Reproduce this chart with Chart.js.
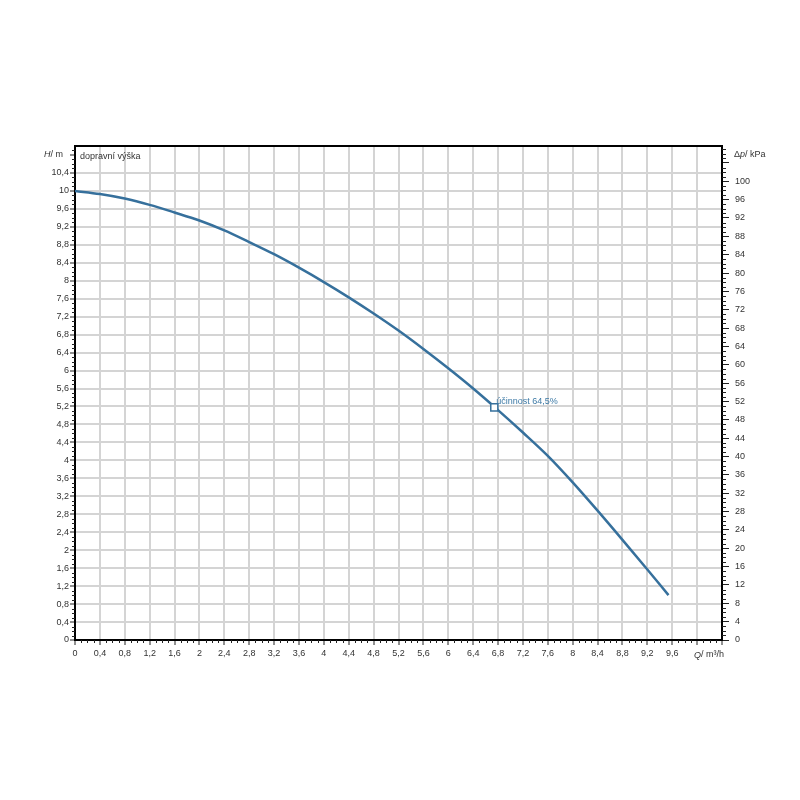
<!DOCTYPE html>
<html>
<head>
<meta charset="utf-8">
<script src="https://cdn.jsdelivr.net/npm/chart.js@4"></script>
<style>
  html, body { margin: 0; padding: 0; background: #fff; }
  canvas { display: block; }
</style>
</head>
<body>
<canvas id="chart" width="800" height="800"></canvas>
<script>
// pump curve
const flowQ = [0, 0.4, 0.8, 1.2, 1.6, 2.0, 2.4, 2.8, 3.2, 3.6, 4.0, 4.4, 4.8, 5.2, 5.6, 6.0, 6.4, 6.8, 7.2, 7.6, 8.0, 8.4, 8.8, 9.2, 9.54];
const headH = [10.0, 9.93, 9.83, 9.69, 9.52, 9.34, 9.12, 8.86, 8.59, 8.29, 7.97, 7.63, 7.27, 6.89, 6.48, 6.05, 5.60, 5.12, 4.62, 4.10, 3.51, 2.88, 2.23, 1.57, 1.0];

const effQ = [6.74];
const effH = [5.18];
const effLabel = "účinnost 64,5%";
const curveLabel = "dopravní výška";

const xTicks = [];
for (let i = 0; i <= 26; i++) xTicks.push(Math.round(i * 4) / 10);
const yTicks = [];
for (let i = 0; i <= 27; i++) yTicks.push(Math.round(i * 4) / 10);
const kpaTicks = [];
for (let i = 0; i <= 26; i++) kpaTicks.push(i * 4);

const KPA_PER_M = 9.79;
const Y_MAX = 11;
const X_MAX = 10.4;

const BLUE = "#36709c";
const GRID = "#d4d4d4";
const TEXT = "#333";
const FONT = "'Liberation Sans', Arial, sans-serif";

const fmt = (v) => String(Math.round(v * 10) / 10).replace(".", ",");

const extras = {
    id: "extras",
    afterDraw(chart) {
        const ctx = chart.ctx;
        const a = chart.chartArea;
        const sx = chart.scales.x, sy = chart.scales.y, sk = chart.scales.y2;
        ctx.save();
        // top border
        ctx.strokeStyle = "#000";
        ctx.lineWidth = 2;
        ctx.beginPath();
        ctx.moveTo(a.left - 1, a.top);
        ctx.lineTo(a.right + 1, a.top);
        ctx.stroke();

        // minor ticks
        ctx.lineWidth = 1;
        ctx.strokeStyle = "#222";
        ctx.beginPath();
        for (let i = 1; i <= 104; i++) {
            if (i % 4 === 0) continue;
            const px = Math.round(sx.getPixelForValue(i / 10)) + 0.5;
            ctx.moveTo(px, a.bottom);
            ctx.lineTo(px, a.bottom + 3);
        }
        for (let i = 1; i <= 109; i++) {
            if (i % 4 === 0) continue;
            const py = Math.round(sy.getPixelForValue(i / 10)) + 0.5;
            ctx.moveTo(a.left, py);
            ctx.lineTo(a.left - 3, py);
        }
        for (let i = 1; i <= 107; i++) {
            if (i % 4 === 0) continue;
            const py = Math.round(sk.getPixelForValue(i)) + 0.5;
            ctx.moveTo(a.right, py);
            ctx.lineTo(a.right + 4, py);
        }
        ctx.stroke();

        // axis titles
        ctx.fillStyle = TEXT;
        ctx.textBaseline = "middle";
        const yTitle = sy.getPixelForValue(10.8);

        const parts = (list, x, y) => {
            let cx = x;
            list.forEach(([t, it]) => {
                ctx.font = (it ? "italic " : "") + "9px " + FONT;
                ctx.textAlign = "left";
                ctx.fillText(t, cx, y);
                cx += ctx.measureText(t).width;
            });
            return cx - x;
        };
        const hParts = [["H", true], ["/ m", false]];
        let w = 0;
        hParts.forEach(([t, it]) => { ctx.font = (it ? "italic " : "") + "9px " + FONT; w += ctx.measureText(t).width; });
        parts(hParts, a.left - 12 - w, yTitle);
        parts([["Δ", false], ["p", true], ["/ kPa", false]], a.right + 12, yTitle);
        parts([["Q", true], ["/ m³/h", false]], sx.getPixelForValue(10.0) - 3, a.bottom + 15);

        // in-plot labels
        ctx.font = "9px " + FONT;
        ctx.fillStyle = TEXT;
        ctx.fillText(curveLabel, a.left + 5, yTitle + 2);

        ctx.fillStyle = "#3d7aa6";
        const mx = sx.getPixelForValue(effQ[0]);
        const my = sy.getPixelForValue(effH[0]);
        ctx.fillText(effLabel, mx + 2, my - 6);
        ctx.restore();
    }
};

new Chart(document.getElementById("chart"), {
    type: "line",
    data: {
        datasets: [
            {
                label: effLabel,
                data: effQ.map((q, i) => ({ x: q, y: effH[i] })),
                showLine: false,
                pointStyle: "rect",
                pointRadius: 5,
                pointBorderWidth: 1.5,
                pointBorderColor: BLUE,
                pointBackgroundColor: "#fff",
            },
            {
                label: curveLabel,
                data: flowQ.map((q, i) => ({ x: q, y: headH[i] })),
                borderColor: BLUE,
                borderWidth: 2.5,
                pointRadius: 0,
                cubicInterpolationMode: "monotone",
                fill: false,
            },
        ],
    },
    options: {
        responsive: false,
        animation: false,
        layout: {
            padding: { top: 146, left: 0, right: 0, bottom: 0 },
        },
        plugins: {
            legend: { display: false },
            tooltip: { enabled: false },
        },
        scales: {
            x: {
                type: "linear",
                min: 0,
                max: X_MAX,
                afterFit: (s) => { s.height = 160; },
                afterBuildTicks: (s) => { s.ticks = xTicks.map((v) => ({ value: v })); },
                grid: { color: GRID, lineWidth: 2, tickColor: "#222", tickWidth: 1, tickLength: 5 },
                border: { color: "#000", width: 2 },
                ticks: {
                    autoSkip: false,
                    maxRotation: 0,
                    padding: 3,
                    color: TEXT,
                    font: { family: FONT, size: 9 },
                    callback: (v) => (v >= 9.9 ? "" : fmt(v)),
                },
            },
            y: {
                type: "linear",
                position: "left",
                min: 0,
                max: Y_MAX,
                afterFit: (s) => { s.width = 75; },
                afterBuildTicks: (s) => { s.ticks = yTicks.map((v) => ({ value: v })); },
                grid: {
                    color: (c) => (c.tick && c.tick.value > 10.5 ? "rgba(0,0,0,0)" : GRID),
                    lineWidth: 2,
                    tickColor: "#222",
                    tickWidth: 1,
                    tickLength: 5,
                },
                border: { color: "#000", width: 2 },
                ticks: {
                    autoSkip: false,
                    padding: 1,
                    color: TEXT,
                    font: { family: FONT, size: 9 },
                    callback: (v) => (v > 10.5 ? "" : fmt(v)),
                },
            },
            y2: {
                type: "linear",
                position: "right",
                min: 0,
                max: Y_MAX * KPA_PER_M,
                afterFit: (s) => { s.width = 78; },
                afterBuildTicks: (s) => { s.ticks = kpaTicks.map((v) => ({ value: v })); },
                grid: { drawOnChartArea: false, tickColor: "#222", tickWidth: 1, tickLength: 7 },
                border: { color: "#000", width: 2 },
                ticks: {
                    autoSkip: false,
                    padding: 6,
                    color: TEXT,
                    font: { family: FONT, size: 9 },
                    callback: (v) => (v > 100 ? "" : String(v)),
                },
            },
        },
    },
    plugins: [extras],
});
</script>
</body>
</html>
